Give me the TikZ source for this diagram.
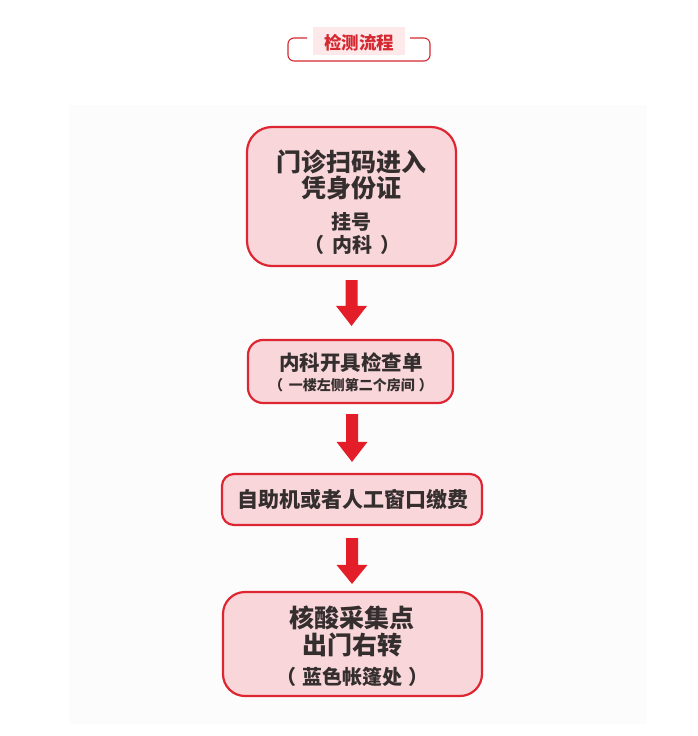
\documentclass[tikz,border=0pt]{standalone}
\usepackage{fontspec}
\newfontfamily\cjk{Noto Sans CJK SC}
\usetikzlibrary{calc}
\definecolor{boxfill}{RGB}{249,214,217}
\definecolor{boxline}{RGB}{222,38,50}
\definecolor{arrred}{RGB}{228,30,40}
\definecolor{txt}{RGB}{52,46,46}
\definecolor{titlered}{RGB}{214,40,48}
\definecolor{titlebg}{RGB}{253,232,234}
\definecolor{panel}{RGB}{252,252,252}
\tikzset{
  stepbox/.style={draw=boxline, fill=boxfill, line width=2.2pt, rectangle, inner sep=0pt},
  bigtxt/.style={text=txt, inner sep=0pt, font=\cjk\bfseries\fontsize{25}{25}\selectfont},
  midtxt/.style={text=txt, inner sep=0pt, font=\cjk\bfseries\fontsize{20}{20}\selectfont},
  smalltxt/.style={text=txt, inner sep=0pt, font=\cjk\bfseries\fontsize{14}{14}\selectfont},
}
\newcommand{\blockarrow}[3]{%
  \fill[arrred] let \p1=(#1), \p2=(#2) in
    (\x1-6pt,\y1) -- (\x1+6pt,\y1) -- (\x1+6pt,\y2+#3) -- (\x1+15.5pt,\y2+#3)
    -- (\x1,\y2) -- (\x1-15.5pt,\y2+#3) -- (\x1-6pt,\y2+#3) -- cycle;}
\begin{document}
\begin{tikzpicture}[x=1pt,y=-1pt]
\useasboundingbox (0,0) rectangle (697,736);
\fill[white] (0,0) rectangle (697,736);
\fill[panel] (69,105) rectangle (647,724);
% title
\fill[titlebg] (313,27) rectangle (405,55);
\draw[titlered, line width=1.1pt, rounded corners=6pt]
  (307,38) -- (288,38) -- (288,61) -- (430,61) -- (430,38) -- (410,38);
\node[text=titlered, inner sep=0pt, font=\cjk\bfseries\fontsize{17.5}{17.5}\selectfont] (title) at (359,43) {检测流程};
% boxes
\node[stepbox, rounded corners=25pt, minimum width=209pt, minimum height=139pt] (b1) at (351.5,196.5) {};
\node[stepbox, rounded corners=15pt, minimum width=205pt, minimum height=63pt] (b2) at (350.5,371.5) {};
\node[stepbox, rounded corners=12pt, minimum width=260pt, minimum height=51pt] (b3) at (352,499.5) {};
\node[stepbox, rounded corners=22pt, minimum width=259pt, minimum height=104pt] (b4) at (352.5,644) {};
% texts
\node[bigtxt] (t1a) at (351.5,162) {门诊扫码进入};
\node[bigtxt] (t1b) at (351.5,188) {凭身份证};
\node[midtxt] (t1c) at (351.5,222) {挂号};
\node[midtxt] (t1d) at (352,245) {（\hspace{8pt}内科\hspace{8pt}）};
\node[text=txt, inner sep=0pt, font=\cjk\bfseries\fontsize{20.5}{20.5}\selectfont] (t2a) at (351,363) {内科开具检查单};
\node[smalltxt] (t2b) at (351,385) {（\hspace{6pt}一楼左侧第二个房间\hspace{4pt}）};
\node[text=txt, inner sep=0pt, font=\cjk\bfseries\fontsize{21}{21}\selectfont] (t3) at (353,500) {自助机或者人工窗口缴费};
\node[bigtxt] (t4a) at (352,618) {核酸采集点};
\node[bigtxt] (t4b) at (352,645) {出门右转};
\node[midtxt] (t4c) at (352,677) {（\hspace{6pt}蓝色帐篷处\hspace{6pt}）};
% arrows
\coordinate (a1s) at ($(b1.south)+(0,13)$);
\coordinate (a1e) at ($(b2.north)+(1,-13)$);
\blockarrow{a1s}{a1e}{20pt}
\coordinate (a2s) at ($(b2.south)+(1.5,10)$);
\coordinate (a2e) at ($(b3.north)+(0,-11)$);
\blockarrow{a2s}{a2e}{20pt}
\coordinate (a3s) at ($(b3.south)+(0,12)$);
\coordinate (a3e) at ($(b4.north)+(-0.5,-7)$);
\blockarrow{a3s}{a3e}{19pt}
\end{tikzpicture}
\end{document}
